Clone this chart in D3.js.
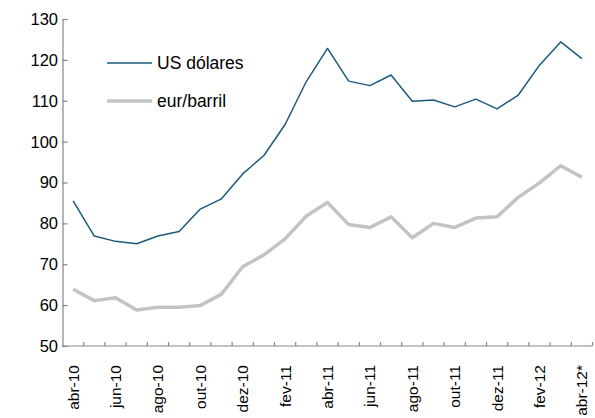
<!DOCTYPE html>
<html><head><meta charset="utf-8">
<script src="https://cdn.jsdelivr.net/npm/d3@7"></script>
<style>body{margin:0;background:#fff}svg{display:block}text{font-family:"Liberation Sans",Arial,sans-serif;fill:#000}</style>
</head><body><svg id="c" width="595" height="418"></svg>
<script>
const categories = ["abr-10","mai-10","jun-10","jul-10","ago-10","set-10","out-10","nov-10","dez-10","jan-11","fev-11","mar-11","abr-11","mai-11","jun-11","jul-11","ago-11","set-11","out-11","nov-11","dez-11","jan-12","fev-12","mar-12","abr-12*"];
const usd = [85.5,76.9,75.6,75.0,76.9,78.0,83.5,86.0,92.1,96.6,104.2,114.7,122.8,114.8,113.7,116.3,109.9,110.2,108.5,110.4,108.0,111.4,118.7,124.4,120.3];
const eur = [63.9,61.1,61.8,58.8,59.5,59.5,59.9,62.7,69.4,72.3,76.2,81.8,85.1,79.7,79.0,81.6,76.5,80.0,79.0,81.3,81.6,86.4,89.9,94.1,91.3];
const yTicks = [50,60,70,80,90,100,110,120,130];
const seriesNames = ["US dólares","eur/barril"];

const svg = d3.select("#c");
const x = d3.scaleBand().domain(categories).range([62.5, 592.5]);
const y = d3.scaleLinear().domain([50,130]).range([346, 19]);
const axisColor = "#868686";

// Y axis
const ya = svg.append("g").attr("transform","translate(62.5,0)")
  .call(d3.axisRight(y).tickValues(yTicks).tickSize(5).tickFormat(""));
ya.select(".domain").attr("stroke",axisColor).attr("stroke-width",1.2);
ya.selectAll(".tick line").attr("stroke",axisColor).attr("stroke-width",1.2);
svg.append("g").selectAll("text").data(yTicks).join("text")
  .attr("x",58).attr("y",d=>y(d)).attr("dy","0.36em").attr("text-anchor","end")
  .style("font-size","16.5px").text(d=>d);

// X axis: ticks between categories
const bounds = categories.map((c,i)=>x(c)+x.bandwidth());
const xg = svg.append("g");
xg.append("line").attr("x1",62.5).attr("x2",592.5).attr("y1",y(50)).attr("y2",y(50))
  .attr("stroke",axisColor).attr("stroke-width",1.2);
xg.selectAll("line.t").data(bounds).join("line").attr("class","t")
  .attr("x1",d=>d).attr("x2",d=>d).attr("y1",y(50)).attr("y2",y(50)-4)
  .attr("stroke",axisColor).attr("stroke-width",1.2);
xg.selectAll("text").data(categories.filter((c,i)=>i%2===0)).join("text")
  .attr("transform",d=>`translate(${x(d)+x.bandwidth()/2},365) rotate(-90)`)
  .attr("dy","0.36em").attr("text-anchor","end").style("font-size","15.5px").text(d=>d);

const cx = (d,i)=>x(categories[i])+x.bandwidth()/2;
const line = d3.line().x((d,i)=>cx(d,i)).y(d=>y(d));
svg.append("path").datum(eur).attr("d",line).attr("fill","none")
  .attr("stroke","#c3c3c3").attr("stroke-width",3.5).attr("stroke-linejoin","round");
svg.append("path").datum(usd).attr("d",line).attr("fill","none")
  .attr("stroke","#1b5a7c").attr("stroke-width",1.5).attr("stroke-linejoin","round");

// Legend
const leg = [{name:seriesNames[0],c:"#1b5a7c",w:1.5,y:63},{name:seriesNames[1],c:"#c3c3c3",w:3.5,y:101}];
const lg = svg.append("g");
leg.forEach(l=>{
  lg.append("line").attr("x1",107).attr("x2",152).attr("y1",l.y).attr("y2",l.y)
    .attr("stroke",l.c).attr("stroke-width",l.w);
  lg.append("text").attr("x",157).attr("y",l.y).attr("dy","0.36em")
    .style("font-size","17.5px").text(l.name);
});
</script></body></html>
